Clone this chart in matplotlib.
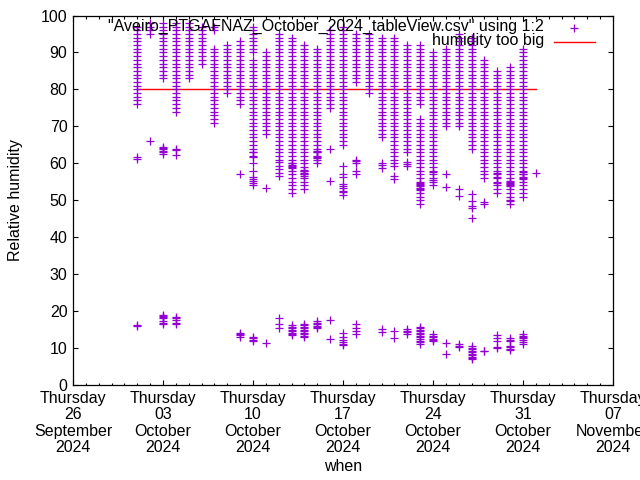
import matplotlib
matplotlib.use('Agg')
import matplotlib.pyplot as plt
import matplotlib.dates as mdates
from matplotlib.lines import Line2D
import pandas as pd

# fonts, gnuplot look
plt.rcParams['font.family'] = ['Liberation Sans', 'DejaVu Sans']
plt.rcParams['font.size'] = 11.5

# one row of values per day
days = ['2024-10-01', '2024-10-02', '2024-10-03', '2024-10-04', '2024-10-05', '2024-10-06',
        '2024-10-07', '2024-10-08', '2024-10-09', '2024-10-10', '2024-10-11', '2024-10-12',
        '2024-10-13', '2024-10-14', '2024-10-15', '2024-10-16', '2024-10-17', '2024-10-18',
        '2024-10-19', '2024-10-20', '2024-10-21', '2024-10-22', '2024-10-23', '2024-10-24',
        '2024-10-25', '2024-10-26', '2024-10-27', '2024-10-28', '2024-10-29', '2024-10-30',
        '2024-10-31', '2024-11-01']

# upper columns (humidity readings)
humidity = [
    [97, 96, 95, 94, 93, 92, 91, 90, 89, 88, 87, 86, 85, 84, 83, 82, 81, 80, 79, 78, 77, 76],
    [98, 97, 96, 95],
    [98, 97, 96, 95, 94, 93, 92, 91, 90, 89, 88, 87, 86, 85, 84, 83],
    [98, 97, 96, 95, 94, 93, 92, 91, 90, 89, 88, 87, 86, 85, 84, 83, 82, 81, 80, 79, 78, 77, 76, 75, 74],
    [98, 97, 96, 95, 94, 93, 92, 91, 90, 89, 88, 87, 86, 85, 84, 83],
    [97, 96, 95, 94, 93, 92, 91, 90, 89, 88, 87],
    [97, 96, 91, 90, 89, 88, 87, 86, 85, 84, 83, 82, 81, 80, 79, 78, 77, 76, 75, 74, 73, 72, 71],
    [92, 91, 90, 89, 88, 87, 86, 85, 84, 83, 82, 81, 80, 79],
    [93, 92, 91, 90, 89, 88, 87, 86, 85, 84, 83, 82, 81, 80, 79, 78, 77, 76],
    [97, 96, 95, 94, 93, 92, 91, 90, 88, 87, 86, 85, 84, 83, 82, 81, 80, 79, 78, 77, 76, 75, 74,
     73, 72, 71, 70, 69, 68, 67, 66, 65, 64, 63, 62],
    [90, 89, 88, 87, 86, 85, 84, 83, 82, 81, 80, 79, 78, 77, 76, 75, 74, 73, 72, 71, 70, 69, 68],
    [95, 94, 93, 92, 91, 90, 89, 88, 87, 86, 85, 84, 83, 82, 81, 80, 79, 78, 77, 76, 75, 74, 73,
     72, 71, 70, 69, 68, 67, 66, 65, 64, 63, 62, 61],
    [94, 93, 92, 91, 90, 89, 88, 87, 86, 85, 84, 83, 82, 81, 80, 79, 78, 77, 76, 75, 74, 73, 72,
     71, 70, 69, 68, 67, 66, 65, 64, 63, 62, 61, 60, 59, 58, 57, 56, 55, 54, 53, 52],
    [92, 91, 90, 89, 88, 87, 86, 85, 84, 83, 82, 81, 80, 79, 78, 77, 76, 75, 74, 73, 72, 71, 70,
     69, 68, 67, 66, 65, 64, 63, 62, 61, 60, 59, 58, 57, 56, 55, 54, 53],
    [91, 90, 89, 88, 87, 86, 85, 84, 83, 82, 81, 80, 79, 78, 77, 76, 75, 74, 73, 72, 71, 70, 69,
     68, 67, 66, 65, 64, 63, 62, 61, 60],
    [96, 95, 94, 93, 92, 91, 90, 89, 88, 87, 86, 85, 84, 83, 82, 81, 80, 79, 78, 77, 76, 75],
    [97, 96, 95, 94, 93, 92, 91, 90, 89, 88, 87, 86, 85, 84, 83, 82, 81, 80, 79, 78, 77, 76, 75,
     74, 73, 72, 71, 70, 69, 68, 67, 66, 65],
    [95, 94, 93, 92, 91, 90, 89, 88, 87, 86, 85, 84, 83, 82],
    [95, 94, 93, 92, 91, 90, 89, 88, 87, 86, 85, 84, 83, 82, 81, 80, 79],
    [94, 93, 92, 91, 90, 89, 88, 87, 86, 85, 84, 83, 82, 81, 80, 79, 78, 77, 76, 75, 74, 73, 72,
     71, 70, 69, 68, 67],
    [94, 93, 92, 91, 90, 89, 88, 87, 86, 85, 84, 83, 82, 81, 80, 79, 78, 77, 76, 75, 74, 73, 72,
     71, 70, 69, 68, 67, 66, 65, 64, 63, 62, 61, 60],
    [92, 91, 90, 89, 88, 87, 86, 85, 84, 83, 82, 81, 80, 79, 78, 77, 76, 75, 74, 73, 72, 71, 70,
     69, 68, 67, 66, 65, 64, 63],
    [92, 91, 90, 89, 88, 87, 86, 85, 84, 83, 82, 81, 80, 79, 78, 77, 76, 72, 71, 70, 69, 68, 67,
     66, 65, 64, 63, 62, 61, 60, 59, 58, 57, 56, 55, 54, 53, 52, 51, 50, 49],
    [90, 89, 88, 87, 86, 85, 84, 83, 82, 81, 80, 79, 78, 77, 76, 75, 74, 73, 72, 71, 70, 69, 68,
     67, 66, 65, 64, 63, 62, 61, 60, 59, 58, 57, 56, 55, 54],
    [91, 90, 89, 88, 87, 86, 85, 84, 83, 82, 81, 80, 79, 78, 77, 76, 75, 74, 73, 72, 71, 70],
    [95, 94, 93, 92, 91, 90, 89, 88, 87, 86, 85, 84, 83, 82, 81, 80, 79, 78, 77, 76, 75, 74, 73,
     72, 71, 70],
    [94, 93, 92, 91, 90, 89, 88, 87, 86, 85, 84, 83, 82, 81, 80, 79, 78, 77, 76, 75, 74, 73, 72,
     71, 70, 69, 68, 67, 66, 65, 64],
    [88, 87, 86, 85, 84, 83, 82, 81, 80, 79, 78, 77, 76, 75, 74, 73, 72, 71, 70, 69, 68, 67, 66,
     65, 64, 63, 62, 61, 60, 59, 58, 57, 56],
    [85, 84, 83, 82, 81, 80, 79, 78, 77, 76, 75, 74, 73, 72, 71, 70, 69, 68, 67, 66, 65, 64, 63,
     62, 61, 60, 59, 58, 57, 56, 55, 54, 53, 52],
    [86, 85, 84, 83, 82, 81, 80, 79, 78, 77, 76, 75, 74, 73, 72, 71, 70, 69, 68, 67, 66, 65, 64,
     63, 62, 61, 60, 59, 58, 57, 56, 55, 54, 53, 52, 51, 50, 49],
    [91, 90, 89, 88, 87, 86, 85, 84, 83, 82, 81, 80, 79, 78, 77, 76, 75, 74, 73, 72, 71, 70, 69,
     68, 67, 66, 65, 64, 63, 62, 61, 60, 59, 58, 57, 56, 55, 54, 53, 52, 51],
    [],
]

# middle cluster (45-66)
temp_f = [
    [61.6, 61.2], [66.0], [64.5, 64.2, 63.8, 63.4, 63.0, 62.6], [64.0, 63.5, 62.3], [], [], [], [],
    [57.2], [63.0, 61.6, 60.2, 58.0, 56.4, 55.8, 55.2, 54.6, 54.0], [53.2],
    [60.4, 59.3, 58.4, 57.5, 56.6], [60.0, 59.6, 59.2, 58.8], [58.2, 57.8, 57.4, 57.0, 56.6],
    [63.4, 63.0, 61.8, 61.4], [64.0, 55.3],
    [59.3, 57.2, 56.2, 54.4, 53.9, 53.4, 52.6, 52.1, 51.5], [61.0, 60.5, 60.1, 58.0, 57.0], [],
    [60.0, 59.6, 58.6], [59.3, 56.6, 55.8], [60.4, 59.8, 59.2], [54.8, 54.3, 53.8, 53.3, 52.8],
    [57.6, 55.4], [57.0, 53.7], [53.0, 51.2], [51.7, 49.9, 48.4, 48.0, 45.3], [49.4, 49.0],
    [57.5, 56.2, 54.8], [55.3, 54.8, 54.3, 53.9, 49.9], [57.7, 57.2, 56.2, 55.7], [57.5],
]

# bottom cluster (6-20)
temp_c = [
    [16.0, 16.3], [], [18.9, 18.6, 18.3, 18.0, 17.2, 16.9, 16.6], [18.3, 18.0, 17.6, 16.8, 16.4],
    [], [], [], [], [14.2, 13.8, 13.4, 13.0], [13.0, 12.6, 12.2, 11.8], [11.4],
    [18.2, 16.4, 15.4], [16.2, 15.8, 15.4, 15.0, 14.6, 14.2, 13.8, 13.5],
    [16.6, 16.2, 15.8, 15.3, 14.9, 14.5, 14.1, 13.7, 13.3, 13.0],
    [17.3, 16.9, 16.5, 16.1, 15.7, 15.4], [17.5, 12.4], [14.0, 13.0, 12.3, 11.6, 11.0, 10.7],
    [16.4, 15.5, 14.6, 13.7], [], [15.1, 14.4], [14.6, 12.8], [15.1, 14.7, 14.3, 13.9],
    [15.7, 15.3, 14.9, 14.5, 14.1, 13.7, 13.3, 13.0, 12.4, 12.0, 11.6, 11.1],
    [13.7, 13.3, 12.9, 12.5, 12.1, 11.9], [11.5, 8.3], [11.0, 10.6, 10.2],
    [10.5, 10.1, 9.7, 9.3, 8.9, 8.5, 8.1, 7.7, 7.3, 7.0], [9.1, 9.3],
    [13.4, 12.6, 11.8, 10.4, 10.0], [12.7, 12.3, 11.9, 10.6, 10.2, 9.8, 9.4],
    [13.7, 13.3, 12.9, 12.6, 12.1, 11.6, 11.2], [],
]

limit = 80
limit_from = '2024-10-01'
limit_to = '2024-11-01'

series_label = '"Aveiro_PTGAFNAZ_October_2024_tableView.csv" using 1:2'
limit_label = 'humidity too big'

# flatten everything into one point series
xs, ys = [], []
for d, a, b, c in zip(days, humidity, temp_f, temp_c):
    for v in a + b + c:
        xs.append(pd.Timestamp(d))
        ys.append(v)

fig = plt.figure(figsize=(6.4, 4.8), dpi=100)
ax = fig.add_axes([73/640, 1-385/480, 540/640, 369.5/480])

pcol = '#9400D3'
ax.plot(xs, ys, linestyle='none', marker='+', markersize=5.2, markeredgewidth=0.9,
        color=pcol, zorder=3)
ax.plot([pd.Timestamp(limit_from), pd.Timestamp(limit_to)], [limit, limit],
        color='red', linewidth=1, zorder=2)

ax.set_xlim(pd.Timestamp('2024-09-26'), pd.Timestamp('2024-11-07'))
ax.set_ylim(0, 100)
ax.set_yticks(range(0, 101, 10))
ax.xaxis.set_major_locator(mdates.WeekdayLocator(byweekday=mdates.TH))
ax.xaxis.set_minor_locator(mdates.DayLocator())
ax.xaxis.set_major_formatter(mdates.DateFormatter('%A\n%d\n%B\n%Y'))
ax.tick_params(which='both', direction='in', top=True, right=True, color='black')
ax.tick_params(which='major', length=3.5, width=0.8, pad=4)
ax.tick_params(which='minor', length=1.8, width=0.8)
ax.tick_params(axis='x', which='major', pad=4.5)
for s in ax.spines.values():
    s.set_linewidth(0.9)

ax.set_xlabel('when', labelpad=3)
ax.set_ylabel('Relative humidity', labelpad=13)

# key, gnuplot style (text right, sample after it)
fig.text(544/640, 1-26.5/480, series_label, ha='right', va='center', zorder=10)
fig.text(544/640, 1-40/480, limit_label, ha='right', va='center', zorder=10)
fig.add_artist(Line2D([574/640], [1-28/480], marker='+', markersize=5.2,
                      markeredgewidth=0.9, color=pcol, linestyle='none'))
fig.add_artist(Line2D([554/640, 595/640], [1-42/480, 1-42/480], color='red', linewidth=1))

fig.canvas.draw()
for lab in ax.get_xticklabels():
    lab.set_linespacing(1.1)

fig.savefig('out.png', dpi=100)
